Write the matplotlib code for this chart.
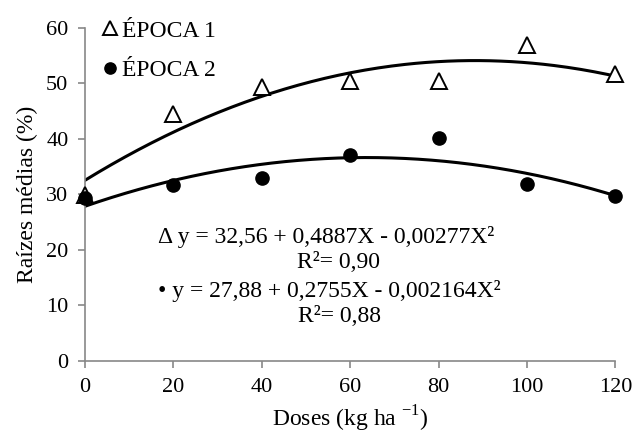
import numpy as np
import matplotlib
matplotlib.use('Agg')
import matplotlib.pyplot as plt

plt.rcParams['font.family'] = ['Liberation Serif', 'DejaVu Serif']

doses = [0, 20, 40, 60, 80, 100, 120]
epoca1 = [29.9, 44.5, 49.4, 50.4, 50.4, 56.9, 51.7]
epoca2 = [29.4, 31.7, 33.0, 37.1, 40.2, 31.9, 29.7]

# coeficientes das regressoes (c, b, a)
coef1 = [32.56, 0.4887, -0.00277]
coef2 = [27.88, 0.2755, -0.002164]

fig = plt.figure(figsize=(6.35, 4.36), dpi=100)
ax = fig.add_axes([0.134, 0.172, 0.835, 0.764])

xs = np.linspace(0, 120, 200)
ax.plot(xs, coef1[0] + coef1[1] * xs + coef1[2] * xs**2, color='black', lw=2.2)
ax.plot(xs, coef2[0] + coef2[1] * xs + coef2[2] * xs**2, color='black', lw=2.2)

ax.plot(doses, epoca1, linestyle='none', marker='^', markersize=12,
        markerfacecolor='white', markeredgecolor='black', markeredgewidth=1.4,
        label='ÉPOCA 1', zorder=3, clip_on=False)
ax.plot(doses, epoca2, linestyle='none', marker='o', markersize=9.5,
        color='black', label='ÉPOCA 2', zorder=3, clip_on=False)

ax.set_xlim(0, 120)
ax.set_ylim(0, 60)
ax.set_xticks(range(0, 121, 20))
ax.set_yticks(range(0, 61, 10))
ax.tick_params(labelsize=16, color='#888888', length=5, width=1.2,
               direction='out', pad=7)
for s in ['top', 'right']:
    ax.spines[s].set_visible(False)
for s in ['left', 'bottom']:
    ax.spines[s].set_color('#888888')
    ax.spines[s].set_linewidth(1.2)

ax.set_xlabel('Doses (kg ha $^{\\mathregular{-1}}$)', fontsize=17, labelpad=5)
ax.set_ylabel('Raízes médias (%)', fontsize=17, labelpad=6)

leg = ax.legend(loc='upper left', bbox_to_anchor=(-0.015, 1.066), frameon=False,
                fontsize=17, handletextpad=-0.3, handlelength=1.6,
                labelspacing=0.76, borderaxespad=0.2, markerscale=0.85)

ax.text(16.6, 22.3, 'Δ y = 32,56 + 0,4887X - 0,00277X²',
        ha='left', va='center', fontsize=17)
ax.text(57.4, 17.8, 'R²= 0,90', ha='center', va='center', fontsize=17)
ax.text(16.6, 12.6, '• y = 27,88 + 0,2755X - 0,002164X²',
        ha='left', va='center', fontsize=17)
ax.text(57.6, 8.1, 'R²= 0,88', ha='center', va='center', fontsize=17)

fig.savefig('out.png', dpi=100)
